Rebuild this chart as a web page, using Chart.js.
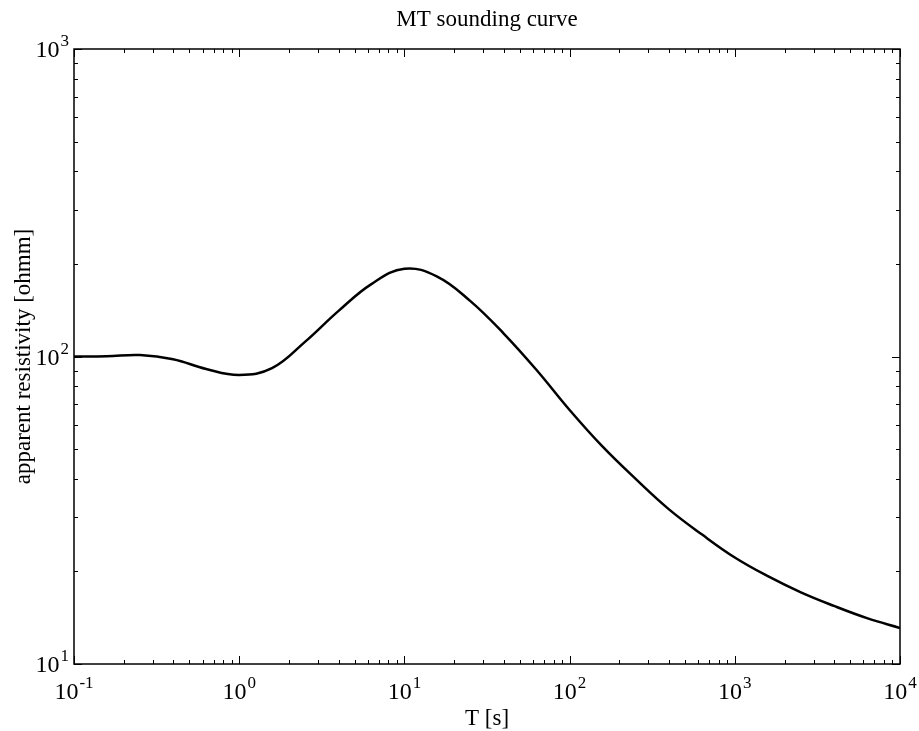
<!DOCTYPE html>
<html>
<head>
    <title>MT sounding curve</title>
    <script src="https://cdn.jsdelivr.net/npm/chart.js"></script>
    <style>
        html, body { margin: 0; padding: 0; background: #fff; }
        #wrap { width: 919px; height: 731px; }
    </style>
</head>
<body>
    <div id="wrap"><canvas id="mtChart" width="919" height="731"></canvas></div>

    <script>
        // periods [s] (every 0.2 decade) and apparent resistivity [ohmm]
        const periods = [0.1, 0.158, 0.251, 0.398, 0.631, 1, 1.58, 2.51, 3.98, 6.31, 10, 15.8, 25.1,
                         39.8, 63.1, 100, 158, 251, 398, 631, 1000, 1585, 2512, 3981, 6310, 10000];
        const rhoApp = [100, 100.2, 101.1, 98, 91.1, 87.1, 91.6, 111.8, 140.5, 172, 193, 182, 151.4,
                        119, 90.4, 67, 51, 40, 31.9, 26.4, 22.2, 19.3, 17.1, 15.45, 14.1, 13.1];

        const xDecades = [-1, 0, 1, 2, 3, 4];
        const yDecades = [1, 2, 3];

        const serif = '"Liberation Serif", "DejaVu Serif", serif';

        // superscript label like 10^3
        function powLabel(ctx, exp, cx, baseY, align) {
            ctx.font = '24px ' + serif;
            const wb = ctx.measureText('10').width;
            ctx.font = '17px ' + serif;
            const es = String(exp);
            const we = ctx.measureText(es).width;
            let left;
            if (align === 'right') left = cx - wb - we - 1;
            else left = cx - (wb + we + 1) / 2;
            ctx.textAlign = 'left';
            ctx.textBaseline = 'alphabetic';
            ctx.font = '24px ' + serif;
            ctx.fillText('10', left, baseY);
            ctx.font = '17px ' + serif;
            ctx.fillText(es, left + wb + 1, baseY - 11);
        }

        const framePlugin = {
            id: 'frame',
            afterDraw(chart) {
                const ctx = chart.ctx;
                const a = chart.chartArea;
                const xs = chart.scales.x, ys = chart.scales.y;
                ctx.save();
                ctx.fillStyle = '#000';
                ctx.strokeStyle = '#000';

                // ticks (inward, all four sides)
                ctx.lineWidth = 1;
                ctx.beginPath();
                xDecades.forEach(d => {
                    for (let m = 1; m <= 9; m++) {
                        const v = m * Math.pow(10, d);
                        if (v < xs.min * 0.999 || v > xs.max * 1.001) continue;
                        const px = Math.round(xs.getPixelForValue(v)) + 0.5;
                        const len = m === 1 ? 8 : 4;
                        ctx.moveTo(px, a.bottom); ctx.lineTo(px, a.bottom - len);
                        ctx.moveTo(px, a.top); ctx.lineTo(px, a.top + len);
                    }
                });
                yDecades.forEach(d => {
                    for (let m = 1; m <= 9; m++) {
                        const v = m * Math.pow(10, d);
                        if (v < ys.min * 0.999 || v > ys.max * 1.001) continue;
                        const py = Math.round(ys.getPixelForValue(v)) + 0.5;
                        const len = m === 1 ? 8 : 4;
                        ctx.moveTo(a.left, py); ctx.lineTo(a.left + len, py);
                        ctx.moveTo(a.right, py); ctx.lineTo(a.right - len, py);
                    }
                });
                ctx.stroke();

                // frame
                ctx.lineWidth = 1.5;
                ctx.strokeRect(a.left, a.top, a.right - a.left, a.bottom - a.top);

                // tick labels
                xDecades.forEach(d => {
                    powLabel(ctx, d, xs.getPixelForValue(Math.pow(10, d)), 699, 'center');
                });
                yDecades.forEach(d => {
                    powLabel(ctx, d, 69, ys.getPixelForValue(Math.pow(10, d)) + 8, 'right');
                });

                // title and axis titles
                ctx.font = '23px ' + serif;
                ctx.textAlign = 'center';
                ctx.textBaseline = 'alphabetic';
                const cx = (a.left + a.right) / 2;
                ctx.fillText('MT sounding curve', cx, 26);
                ctx.fillText('T [s]', cx, 725);
                ctx.translate(30, (a.top + a.bottom) / 2);
                ctx.rotate(-Math.PI / 2);
                ctx.fillText('apparent resistivity [ohmm]', 0, 0);
                ctx.restore();
            }
        };

        const ctx = document.getElementById('mtChart').getContext('2d');
        const chart = new Chart(ctx, {
            type: 'line',
            data: {
                datasets: [{
                    data: periods.map((t, i) => ({ x: t, y: rhoApp[i] })),
                    borderColor: '#000',
                    borderWidth: 2.5,
                    pointRadius: 0,
                    fill: false,
                    tension: 0.4
                }]
            },
            options: {
                responsive: false,
                animation: false,
                layout: { padding: { left: 74, right: 19, top: 49, bottom: 67 } },
                plugins: {
                    legend: { display: false },
                    title: { display: false },
                    tooltip: { enabled: false }
                },
                scales: {
                    x: { type: 'logarithmic', min: 0.1, max: 10000, display: false },
                    y: { type: 'logarithmic', min: 10, max: 1000, display: false }
                }
            },
            plugins: [framePlugin]
        });
    </script>
</body>
</html>
